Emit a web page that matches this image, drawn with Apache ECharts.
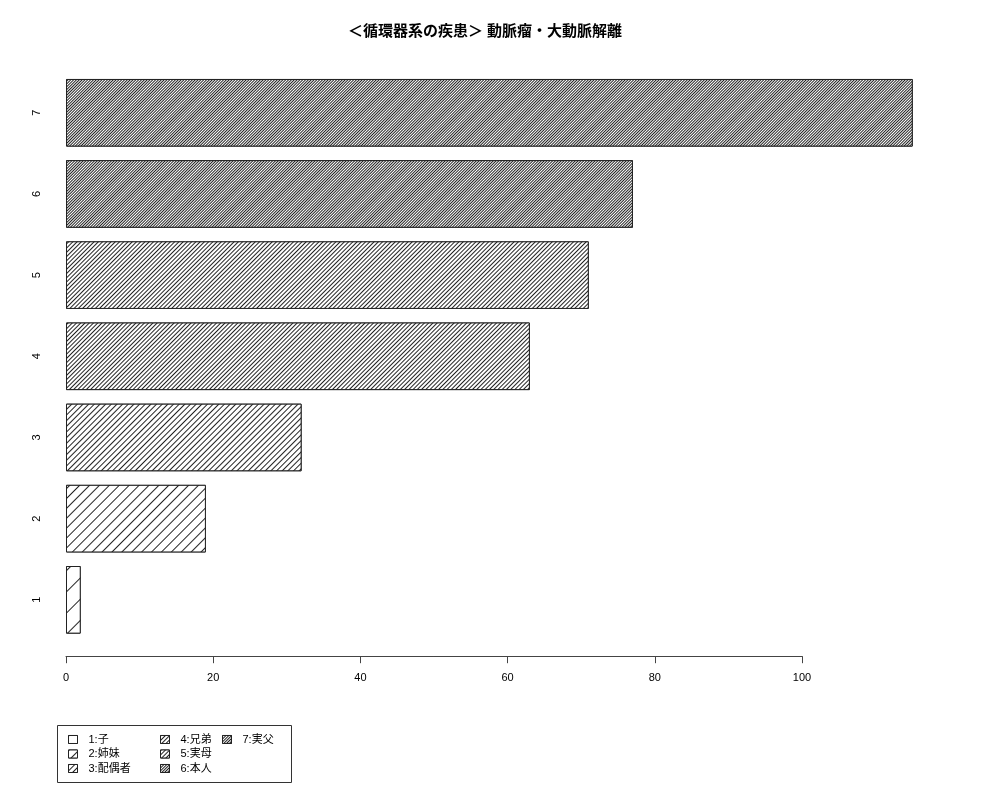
<!DOCTYPE html>
<html>
<head>
<meta charset="utf-8">
<script src="https://cdn.jsdelivr.net/npm/echarts@6/dist/echarts.min.js"></script>
<style>
  html, body { margin: 0; padding: 0; background: #fff; }
  #chart { width: 1000px; height: 800px; }
</style>
</head>
<body>
<div id="chart"></div>
<script>
// data
const categories = ['1', '2', '3', '4', '5', '6', '7'];
const values = [2, 19, 32, 63, 71, 77, 115];
const legendNames = ['1:子', '2:姉妹', '3:配偶者', '4:兄弟', '5:実母', '6:本人', '7:実父'];
const xTicks = [0, 20, 40, 60, 80, 100];

// hatch spacing (px, perpendicular) per bar
const hatchSteps = [14.1, 6.1, 3.3, 2.65, 2.3, 2.0, 1.8];

const FONT = '"Liberation Sans", "Noto Sans CJK JP", sans-serif';
const xMax = 119.65;   // R usr extent

const hatch = (step) => ({
  symbol: 'rect',
  symbolSize: 1,
  color: '#222',
  backgroundColor: '#fff',
  dashArrayX: [1, 0],
  dashArrayY: [1, step - 1],
  rotation: -Math.PI / 4
});

const getOption = () => {
  const series = legendNames.map((name, i) => ({
    name: name,
    type: 'bar',
    stack: 'all',
    xAxisIndex: 0,
    yAxisIndex: 0,
    barCategoryGap: '16.7%',
    data: values.map((v, j) => (j === i ? v : '-')),
    itemStyle: {
      color: '#fff',
      borderColor: '#222',
      borderWidth: 1,
      decal: hatch(hatchSteps[i])
    },
    emphasis: { disabled: true },
    animation: false
  }));

  const legendCol = (items, left) => ({
    orient: 'vertical',
    left: left,
    top: 734,
    padding: 0,
    itemWidth: 9,
    itemHeight: 8,
    itemGap: 3.5,
    icon: 'rect',
    selectedMode: false,
    data: items,
    textStyle: { fontFamily: FONT, fontSize: 11, color: '#000', padding: [0, 0, 0, 6] },
    itemStyle: { borderColor: '#222', borderWidth: 1 }
  });

  return {
    backgroundColor: '#fff',
    animation: false,
    title: {
      text: '＜循環器系の疾患＞ 動脈瘤・大動脈解離',
      left: 480,
      textAlign: 'center',
      top: 19,
      textStyle: { fontFamily: FONT, fontSize: 15, fontWeight: 'bold', color: '#000' }
    },
    legend: [
      legendCol(legendNames.slice(0, 3), 68),
      legendCol(legendNames.slice(3, 6), 160),
      legendCol(legendNames.slice(6), 222)
    ],
    graphic: [{
      type: 'rect',
      shape: { x: 57.5, y: 725.5, width: 234, height: 57 },
      style: { fill: 'none', stroke: '#333', lineWidth: 1 }
    }],
    grid: [
      { left: 66, right: 1000 - 947, top: 72.2, height: 568.2 },
      { left: 66, width: 736, top: 72.2, height: 584 }
    ],
    xAxis: [
      { type: 'value', gridIndex: 0, min: 0, max: xMax, show: false },
      {
        type: 'value', gridIndex: 1, min: 0, max: 100, interval: 20,
        axisLine: { show: true, lineStyle: { color: '#444', width: 1 } },
        axisTick: { show: true, length: 7, lineStyle: { color: '#444' } },
        axisLabel: {
          margin: 16, fontFamily: FONT, fontSize: 11, color: '#000',
          customValues: xTicks
        },
        splitLine: { show: false }
      }
    ],
    yAxis: [
      {
        type: 'category', gridIndex: 0, data: categories,
        axisLine: { show: false },
        axisTick: { show: false },
        axisLabel: { rotate: 90, margin: 24, fontFamily: FONT, fontSize: 11, color: '#000' }
      },
      { type: 'value', gridIndex: 1, min: 0, max: 1, show: false }
    ],
    series: series
  };
};

const iniciarChart = () => {
  const chart = echarts.init(document.getElementById('chart'));
  chart.setOption(getOption());
};

window.addEventListener('load', () => {
  iniciarChart();
});
</script>
</body>
</html>
